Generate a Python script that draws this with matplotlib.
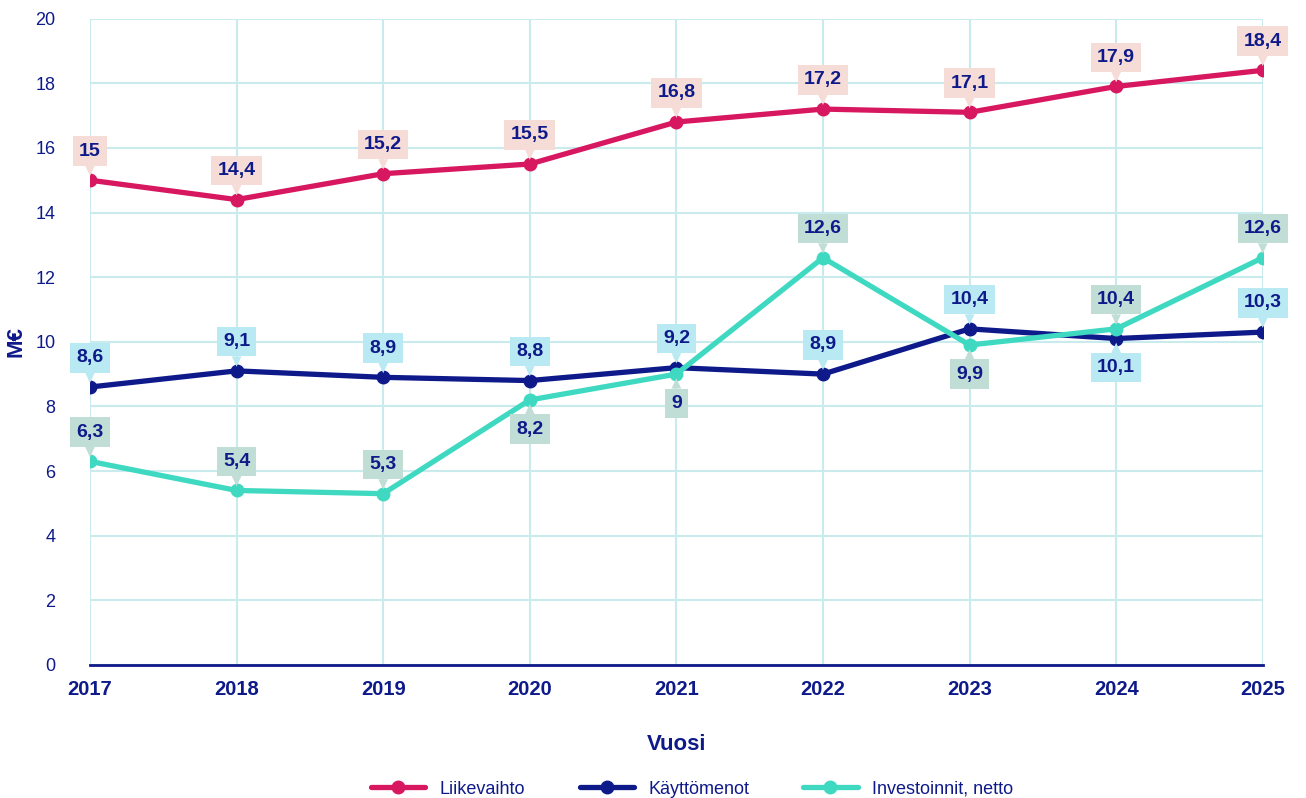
#import necessary libraries
import matplotlib.pyplot as plt

#years on the x axis
years = [2017, 2018, 2019, 2020, 2021, 2022, 2023, 2024, 2025]
#series values (M€)
liikevaihto = [15.0, 14.4, 15.2, 15.5, 16.8, 17.2, 17.1, 17.9, 18.4]
kayttomenot = [8.6, 9.1, 8.9, 8.8, 9.2, 9.0, 10.4, 10.1, 10.3]
investoinnit = [6.3, 5.4, 5.3, 8.2, 9.0, 12.6, 9.9, 10.4, 12.6]
#data labels as printed in the chart
liikevaihto_labels = ["15", "14,4", "15,2", "15,5", "16,8", "17,2", "17,1", "17,9", "18,4"]
kayttomenot_labels = ["8,6", "9,1", "8,9", "8,8", "9,2", "8,9", "10,4", "10,1", "10,3"]
investoinnit_labels = ["6,3", "5,4", "5,3", "8,2", "9", "12,6", "9,9", "10,4", "12,6"]
#label above (1) or below (-1) the point
liikevaihto_side = [1, 1, 1, 1, 1, 1, 1, 1, 1]
kayttomenot_side = [1, 1, 1, 1, 1, 1, 1, -1, 1]
investoinnit_side = [1, 1, 1, -1, -1, 1, -1, 1, 1]

NAVY = "#0e1a8a"
PINK = "#d7175f"
TURQ = "#3fd9c2"
GRID = "#c9ebee"

plt.rcParams['font.family'] = ['Liberation Sans', 'DejaVu Sans']

fig = plt.figure(figsize=(13.06, 7.98), dpi=100)
ax = fig.add_axes([0.0689, 0.1667, 0.898, 0.81])

series = [
    ("Liikevaihto", liikevaihto, liikevaihto_labels, liikevaihto_side, PINK, "#f6dcd7"),
    ("Käyttömenot", kayttomenot, kayttomenot_labels, kayttomenot_side, NAVY, "#b9e9f2"),
    ("Investoinnit, netto", investoinnit, investoinnit_labels, investoinnit_side, TURQ, "#c1ded6"),
]

for name, vals, labs, sides, col, boxcol in series:
    ax.plot(years, vals, color=col, linewidth=3.8, marker="o", markersize=9,
            label=name, zorder=3, solid_capstyle="round")

#data labels with callout boxes
for name, vals, labs, sides, col, boxcol in series:
    for x, v, t, s in zip(years, vals, labs, sides):
        ax.annotate(t, xy=(x, v), xytext=(0, 21 * s), textcoords="offset points",
                    ha="center", va="center", fontsize=14, fontweight="bold", color=NAVY,
                    bbox=dict(boxstyle="square,pad=0.32", fc=boxcol, ec="none"),
                    arrowprops=dict(arrowstyle="wedge,tail_width=0.5", fc=boxcol, ec="none",
                                    shrinkA=0, shrinkB=3),
                    zorder=5)

ax.set_xlim(2017, 2025)
ax.set_ylim(0, 20)
ax.set_yticks(range(0, 21, 2))
ax.set_xticks(years)
ax.grid(True, color=GRID, linewidth=1.5)
ax.set_axisbelow(True)
for sp in ["top", "right", "left"]:
    ax.spines[sp].set_visible(False)
ax.spines["bottom"].set_color(NAVY)
ax.spines["bottom"].set_linewidth(2)
ax.tick_params(axis="both", length=0, colors=NAVY)
ax.tick_params(axis="y", labelsize=13, pad=25)
ax.tick_params(axis="x", labelsize=14.5, pad=11)
for lab in ax.get_xticklabels():
    lab.set_fontweight("bold")

ax.set_xlabel("Vuosi", fontsize=16, fontweight="bold", color=NAVY, labelpad=25)
ax.set_ylabel("M€", fontsize=16, fontweight="bold", color=NAVY, labelpad=6)

leg = fig.legend(loc="lower center", bbox_to_anchor=(0.53, -0.02), ncol=3, frameon=False,
                 fontsize=13, handlelength=3, columnspacing=3, labelcolor=NAVY)

plt.savefig("out.png", dpi=100)
